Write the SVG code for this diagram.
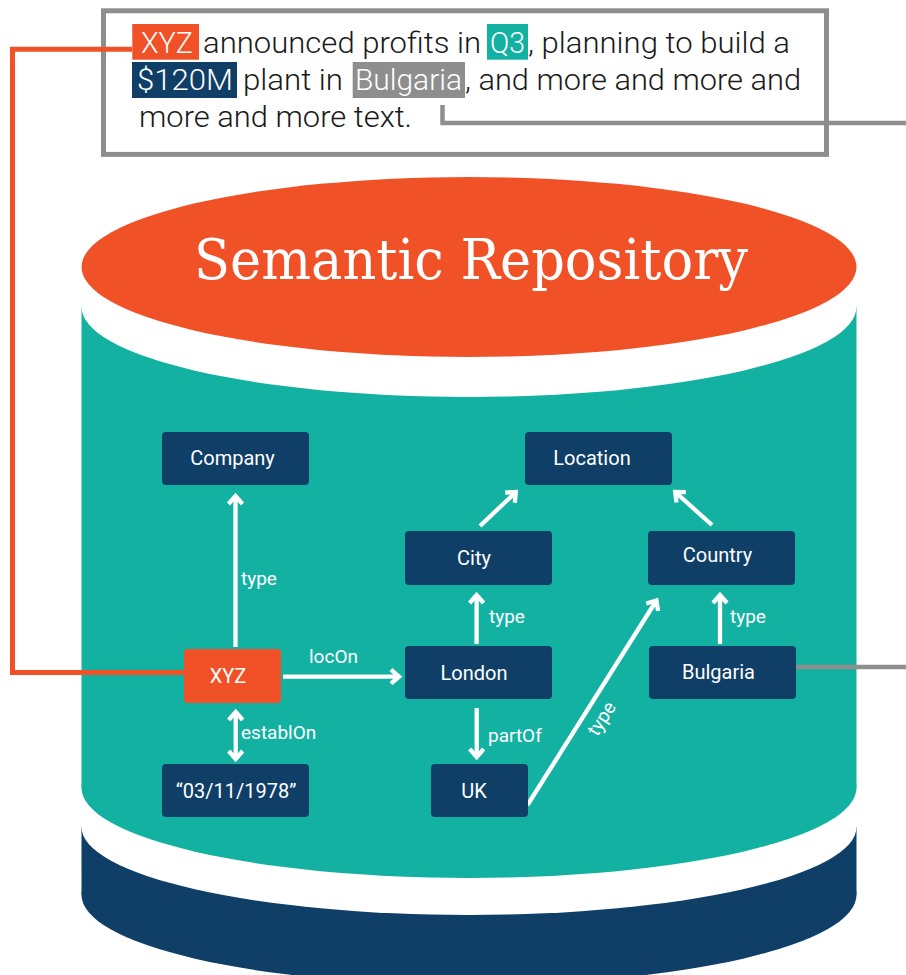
<svg xmlns="http://www.w3.org/2000/svg" width="906" height="975" viewBox="0 0 906 975">
<style>
.node rect{fill:#0F3E66}
.node text{font-family:Roboto,"Liberation Sans",sans-serif;font-size:20px;fill:#fff;text-anchor:middle}
.lbl{font-family:Roboto,"Liberation Sans",sans-serif;font-size:19px;fill:#fff}
.arr{fill:none;stroke:#fff;stroke-width:4.3;marker-end:url(#ah)}
.para{font-family:"Roboto Light",Roboto,"Liberation Sans",sans-serif;font-weight:300;font-size:29px;fill:#1a1a1a}
.hl{fill:#fff}
</style>
<defs>
<marker id="ah" markerUnits="userSpaceOnUse" markerWidth="30" markerHeight="30" refX="0" refY="0" orient="auto" overflow="visible" viewBox="-15 -15 30 30">
<path d="M-8,-7 L0,0 L-8,7" fill="none" stroke="#fff" stroke-width="4.3" stroke-linejoin="miter"/>
</marker>
<marker id="ahs" markerUnits="userSpaceOnUse" markerWidth="30" markerHeight="30" refX="0" refY="0" orient="auto-start-reverse" overflow="visible" viewBox="-15 -15 30 30">
<path d="M-8,-7 L0,0 L-8,7" fill="none" stroke="#fff" stroke-width="4.3" stroke-linejoin="miter"/>
</marker>
</defs>
<rect width="906" height="975" fill="#fff"/>

<!-- text box -->
<g id="textbox">
<rect x="103.5" y="10.8" width="723" height="143.6" fill="#fff" stroke="#8E8E8E" stroke-width="5"/>
<rect x="132.3" y="24" width="66.7" height="35.7" fill="#F05127"/>
<rect x="487" y="24" width="41" height="35.7" fill="#13B1A2"/>
<rect x="132" y="62" width="105" height="36" fill="#0F3E66"/>
<rect x="352.7" y="62" width="112.3" height="36" fill="#8E8E8E"/>
<text class="para hl" x="141" y="53" textLength="52" lengthAdjust="spacingAndGlyphs">XYZ</text>
<text class="para" x="203" y="53" textLength="278" lengthAdjust="spacingAndGlyphs">announced profits in</text>
<text class="para hl" x="490" y="53" textLength="35" lengthAdjust="spacingAndGlyphs">Q3</text>
<text class="para" x="528" y="53" textLength="262" lengthAdjust="spacingAndGlyphs">, planning to build a</text>
<text class="para hl" x="137" y="90" textLength="96" lengthAdjust="spacingAndGlyphs">$120M</text>
<text class="para" x="243" y="90" textLength="100" lengthAdjust="spacingAndGlyphs">plant in</text>
<text class="para hl" x="355" y="90" textLength="107" lengthAdjust="spacingAndGlyphs">Bulgaria</text>
<text class="para" x="465" y="90" textLength="336" lengthAdjust="spacingAndGlyphs">, and more and more and</text>
<text class="para" x="139" y="127" textLength="273" lengthAdjust="spacingAndGlyphs">more and more text.</text>
</g>

<!-- cylinder -->
<g id="repository">
<rect x="81.5" y="827" width="775" height="68" fill="#0F3E66"/>
<ellipse cx="469" cy="895" rx="387.5" ry="90" fill="#0F3E66"/>
<ellipse cx="469" cy="827" rx="387.5" ry="88" fill="#fff"/>
<rect x="81.5" y="307" width="775" height="481" fill="#13B1A2"/>
<ellipse cx="469" cy="788" rx="387.5" ry="90" fill="#13B1A2"/>
<ellipse cx="469" cy="307" rx="387.5" ry="90" fill="#fff"/>
<ellipse cx="469" cy="267" rx="387.5" ry="90" fill="#F05127"/>
<text x="194" y="279" textLength="554" lengthAdjust="spacingAndGlyphs" font-family="'Roboto Slab','DejaVu Serif',serif" font-size="56" fill="#fff">Semantic Repository</text>
</g>

<!-- connectors -->
<g id="connectors">
<path d="M132,49.3 H12.5 V672.5 H184" fill="none" stroke="#F05127" stroke-width="5"/>
<path d="M442.5,105 V123 H906" fill="none" stroke="#8E8E8E" stroke-width="4.5"/>
<path d="M796,667 H906" fill="none" stroke="#8E8E8E" stroke-width="4.5"/>
<path class="arr" d="M235.5,647 V496"/>
<path class="arr" d="M235.7,712 V759" marker-start="url(#ahs)"/>
<path class="arr" d="M283,676.7 H399"/>
<path class="arr" d="M476.6,644 V595"/>
<path class="arr" d="M720,644 V595"/>
<path class="arr" d="M476.7,708 V757"/>
<path class="arr" d="M527.5,805 L656.4,600.5"/>
<path class="arr" d="M480,526 L515.8,492.1"/>
<path class="arr" d="M712,525 L675.2,492"/>
<text class="lbl" x="241" y="585">type</text>
<text class="lbl" x="489" y="623">type</text>
<text class="lbl" x="730" y="623">type</text>
<text class="lbl" x="309" y="663">locOn</text>
<text class="lbl" x="241" y="739">establOn</text>
<text class="lbl" x="488" y="742">partOf</text>
<text class="lbl" text-anchor="middle" transform="translate(607,722) rotate(-57.6)">type</text>
</g>

<!-- nodes -->
<g id="n-company" class="node"><rect x="162" y="432" width="147" height="53" rx="4"/><text x="232.5" y="465">Company</text></g>
<g id="n-location" class="node"><rect x="525" y="432" width="147" height="53" rx="4"/><text x="592" y="465">Location</text></g>
<g id="n-city" class="node"><rect x="405" y="531" width="147" height="54" rx="4"/><text x="474" y="565">City</text></g>
<g id="n-country" class="node"><rect x="648" y="531" width="147" height="54" rx="4"/><text x="717.5" y="562">Country</text></g>
<g id="n-xyz" class="node"><rect x="184" y="649" width="97" height="54" rx="4" style="fill:#F05127"/><text x="228" y="683">XYZ</text></g>
<g id="n-london" class="node"><rect x="405" y="646" width="147" height="53" rx="4"/><text x="474" y="680">London</text></g>
<g id="n-bulgaria" class="node"><rect x="649" y="646" width="147" height="53" rx="4"/><text x="718.5" y="679">Bulgaria</text></g>
<g id="n-date" class="node"><rect x="162" y="764" width="147" height="53" rx="4"/><text x="236" y="798">“03/11/1978”</text></g>
<g id="n-uk" class="node"><rect x="431" y="764" width="97" height="53" rx="4"/><text x="474" y="798">UK</text></g>
</svg>
